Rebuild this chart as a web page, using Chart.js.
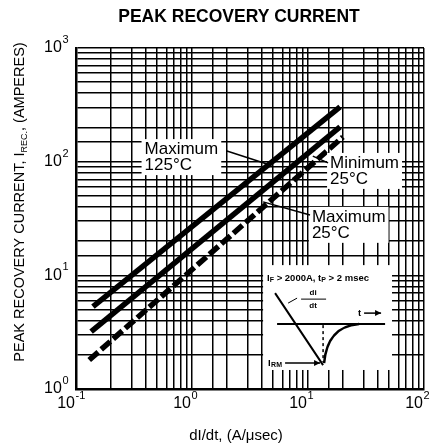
<!DOCTYPE html>
<html>
<head>
<meta charset="utf-8">
<script src="https://cdn.jsdelivr.net/npm/chart.js@4.4.0/dist/chart.umd.min.js"></script>
<style>
  html, body { margin: 0; padding: 0; background: #fff; }
  #wrap { width: 430px; height: 447px; }
</style>
</head>
<body>
<div id="wrap"><canvas id="chart" width="430" height="447"></canvas></div>
<script>
// decade ticks on both log axes
const rateTicks = [0.1, 1, 10, 100];
const rateExp = ['-1', '0', '1', '2'];
const currentTicks = [1, 10, 100, 1000];
const currentExp = ['0', '1', '2', '3'];

// curves (end points of straight log-log lines)
const max125Rate = [0.14, 18.9];
const max125Current = [5.3, 303];
const max25Rate = [0.135, 18.9];
const max25Current = [3.2, 202];
const min25Rate = [0.13, 20];
const min25Current = [1.8, 165];

const ink = '#000';
const font = '"Liberation Sans", Arial, Helvetica, sans-serif';

const pts = (xs, ys) => xs.map((v, i) => ({ x: v, y: ys[i] }));

// text drawn on top of the plot: curve notes, the inset sketch, axis labels
const sheetText = {
    id: 'sheetText',
    afterDraw(chart) {
        const { ctx, scales: { x, y } } = chart;
        const px = v => x.getPixelForValue(v);
        const py = v => y.getPixelForValue(v);
        ctx.save();
        ctx.fillStyle = ink;
        ctx.strokeStyle = ink;

        // curve notes with leader lines
        const notes = [
            { lines: ['Maximum', '125°C'], at: [0.39, 129], from: [2.0, 124], to: [4.5, 95] },
            { lines: ['Minimum', '25°C'], at: [15.5, 97.5], from: [14.9, 97.5], to: [11.0, 112] },
            { lines: ['Maximum', '25°C'], at: [10.8, 32.7], from: [10.4, 34], to: [4.1, 44.3] }
        ];
        ctx.font = '17px ' + font;
        ctx.textBaseline = 'middle';
        notes.forEach(n => {
            const lx = px(n.at[0]), ly = py(n.at[1]);
            const w = Math.max(...n.lines.map(t => ctx.measureText(t).width));
            ctx.fillStyle = '#fff';
            ctx.fillRect(lx - 3, ly - 10, w + 6, 16 * (n.lines.length - 1) + 20);
            ctx.fillStyle = ink;
            n.lines.forEach((t, i) => ctx.fillText(t, lx, ly + 16 * i));
            ctx.lineWidth = 1.5;
            ctx.beginPath();
            ctx.moveTo(px(n.from[0]), py(n.from[1]));
            ctx.lineTo(px(n.to[0]), py(n.to[1]));
            ctx.stroke();
        });

        // inset: recovery waveform sketch
        const bx = px(4.1), by = py(12.3), bw = px(53) - bx, bh = py(1.47) - by;
        ctx.fillStyle = '#fff';
        ctx.fillRect(bx, by, bw, bh);
        ctx.fillStyle = ink;
        ctx.textBaseline = 'middle';
        let cx = bx + 4;
        const piece = (t, sub) => {
            ctx.font = (sub ? 'bold 7px ' : 'bold 9.5px ') + font;
            ctx.fillText(t, cx, by + 13 + (sub ? 2 : 0));
            cx += ctx.measureText(t).width;
        };
        piece('I'); piece('F', true); piece(' > 2000A, t'); piece('P', true); piece(' > 2 msec');

        ctx.lineWidth = 2;
        ctx.beginPath();
        ctx.moveTo(bx + 12, by + 28);
        ctx.lineTo(bx + 60, by + 100);
        ctx.moveTo(bx + 14, by + 59);
        ctx.lineTo(bx + 122, by + 59);
        ctx.stroke();
        ctx.lineWidth = 2.5;
        ctx.beginPath();
        ctx.moveTo(bx + 61, by + 98);
        ctx.bezierCurveTo(bx + 63, by + 76, bx + 72, by + 61, bx + 96, by + 59);
        ctx.stroke();
        ctx.lineWidth = 1.5;
        ctx.setLineDash([3, 3]);
        ctx.beginPath();
        ctx.moveTo(bx + 60, by + 60);
        ctx.lineTo(bx + 60, by + 97);
        ctx.stroke();
        ctx.setLineDash([]);

        // di/dt fraction
        ctx.font = 'bold 8px ' + font;
        ctx.textAlign = 'center';
        ctx.fillText('di', bx + 50, by + 28);
        ctx.fillText('dt', bx + 50, by + 41);
        ctx.lineWidth = 1;
        ctx.beginPath();
        ctx.moveTo(bx + 38, by + 34);
        ctx.lineTo(bx + 63, by + 34);
        ctx.moveTo(bx + 34, by + 33);
        ctx.lineTo(bx + 25, by + 38);
        ctx.stroke();
        ctx.textAlign = 'left';

        // arrows
        const arrow = (x0, y0, x1, y1) => {
            ctx.lineWidth = 1.5;
            ctx.beginPath();
            ctx.moveTo(x0, y0);
            ctx.lineTo(x1, y1);
            ctx.stroke();
            ctx.beginPath();
            ctx.moveTo(x1, y1);
            ctx.lineTo(x1 - 6, y1 - 3);
            ctx.lineTo(x1 - 6, y1 + 3);
            ctx.closePath();
            ctx.fill();
        };
        ctx.font = 'bold 9.5px ' + font;
        ctx.fillText('t', bx + 95, by + 48);
        arrow(bx + 101, by + 48, bx + 118, by + 48);
        ctx.fillText('I', bx + 5, by + 98);
        ctx.font = 'bold 7px ' + font;
        ctx.fillText('RM', bx + 8, by + 100);
        arrow(bx + 22, by + 98, bx + 57, by + 98);

        // decade tick labels
        const power = (tx, ty, e, alignRight) => {
            ctx.font = '16px ' + font;
            ctx.textBaseline = 'middle';
            const w10 = ctx.measureText('10').width;
            ctx.font = '11px ' + font;
            const we = ctx.measureText(e).width;
            const x0 = alignRight ? tx - w10 - we : tx - w10;
            ctx.font = '16px ' + font;
            ctx.fillText('10', x0, ty);
            ctx.font = '11px ' + font;
            ctx.fillText(e, x0 + w10 + 0.5, ty - 8);
        };
        currentTicks.forEach((v, i) => power(68, py(v), currentExp[i], true));
        rateTicks.forEach((v, i) => power(px(v) - 1, 404, rateExp[i], false));

        // axis titles
        ctx.font = '15px ' + font;
        ctx.textAlign = 'center';
        ctx.textBaseline = 'alphabetic';
        ctx.fillText('dI/dt, (A/\u03bcsec)', 236, 440);

        ctx.save();
        ctx.translate(24, 202);
        ctx.rotate(-Math.PI / 2);
        ctx.textAlign = 'left';
        const partA = 'PEAK RECOVERY CURRENT, I';
        const partB = 'REC.';
        const partC = ', (AMPERES)';
        ctx.font = '14.5px ' + font;
        const wa = ctx.measureText(partA).width, wc = ctx.measureText(partC).width;
        ctx.font = '9px ' + font;
        const wb = ctx.measureText(partB).width;
        let sx = -(wa + wb + wc) / 2;
        ctx.font = '14.5px ' + font;
        ctx.fillText(partA, sx, 0);
        sx += wa;
        ctx.font = '9px ' + font;
        ctx.fillText(partB, sx, 3);
        sx += wb;
        ctx.font = '14.5px ' + font;
        ctx.fillText(partC, sx, 0);
        ctx.restore();

        ctx.restore();
    }
};

new Chart(document.getElementById('chart'), {
    type: 'line',
    data: {
        datasets: [
            {
                label: 'Maximum 125°C',
                data: pts(max125Rate, max125Current),
                borderColor: ink,
                borderWidth: 5.5,
                borderCapStyle: 'butt',
                pointRadius: 0
            },
            {
                label: 'Maximum 25°C',
                data: pts(max25Rate, max25Current),
                borderColor: ink,
                borderWidth: 5.5,
                borderCapStyle: 'butt',
                pointRadius: 0
            },
            {
                label: 'Minimum 25°C',
                data: pts(min25Rate, min25Current),
                borderColor: ink,
                borderWidth: 5.5,
                borderDash: [12, 4],
                borderCapStyle: 'butt',
                pointRadius: 0
            }
        ]
    },
    options: {
        responsive: false,
        animation: false,
        layout: { padding: { left: 54, right: 6, top: 0, bottom: 0 } },
        plugins: {
            legend: { display: false },
            tooltip: { enabled: false },
            title: {
                display: true,
                text: 'PEAK RECOVERY CURRENT',
                color: ink,
                font: { family: font, size: 17.5, weight: 'bold' },
                padding: { top: 7, bottom: 20 }
            }
        },
        scales: {
            x: {
                type: 'logarithmic',
                min: 0.1,
                max: 100,
                afterFit: s => { s.height = 58; },
                ticks: { display: false },
                grid: { color: ink, lineWidth: 1.5, drawTicks: false },
                border: { color: ink, width: 2.5 }
            },
            y: {
                type: 'logarithmic',
                min: 1,
                max: 1000,
                afterFit: s => { s.width = 22; },
                ticks: { display: false },
                grid: { color: ink, lineWidth: 1.5, drawTicks: false },
                border: { color: ink, width: 2.5 }
            }
        }
    },
    plugins: [sheetText]
});
</script>
</body>
</html>
